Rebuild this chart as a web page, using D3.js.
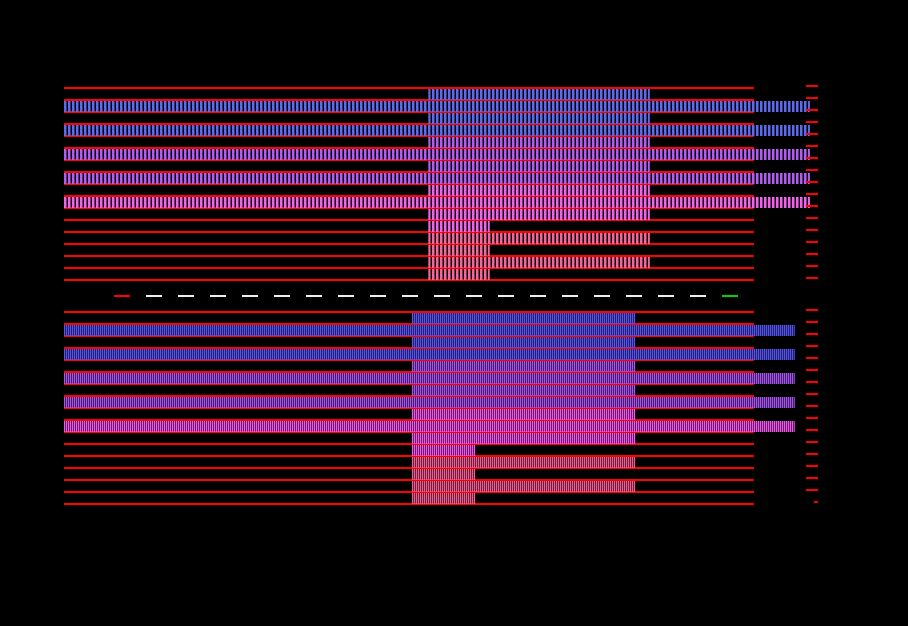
<!DOCTYPE html>
<html><head><meta charset="utf-8">
<script src="https://cdn.jsdelivr.net/npm/d3@7"></script>
<style>html,body{margin:0;padding:0;background:#000;}svg{display:block}</style>
</head><body>
<script>
// ---- data ----
const categories = ["r01","r02","r03","r04","r05","r06","r07","r08","r09","r10","r11","r12","r13","r14","r15","r16"];
const groupOfRow = [0,0,0,0,1,1,1,1,2,2,2,2,3,3,3,3];
const topColors = ["#5b6bec","#b05ef0","#f062ea","#f2669a"];
const bottomColors = ["#5452f2","#a652f2","#f254f0","#f25a92"];
const topStart = [52.8,0,52.8,0,52.8,0,52.8,0,52.8,0,52.8,52.8,52.8,52.8,52.8,52.8];
const topEnd   = [84.9,108.1,84.9,108.1,84.9,108.1,84.9,108.1,84.9,108.1,84.9,61.7,84.9,61.7,84.9,61.7];
const bottomStart = [50.4,0,50.4,0,50.4,0,50.4,0,50.4,0,50.4,50.4,50.4,50.4,50.4,50.4];
const bottomEnd   = [82.8,105.9,82.8,105.9,82.8,105.9,82.8,105.9,82.8,105.9,82.8,59.6,82.8,59.6,82.8,59.6];
const legendColors = ["#ff0000","#eeeeee","#eeeeee","#eeeeee","#eeeeee","#eeeeee","#eeeeee","#eeeeee","#eeeeee","#eeeeee","#eeeeee","#eeeeee","#eeeeee","#eeeeee","#eeeeee","#eeeeee","#eeeeee","#eeeeee","#eeeeee","#00d000"];

// ---- chart ----
const W = 908, H = 626;
const svg = d3.select("body").append("svg").attr("width", W).attr("height", H);
svg.append("rect").attr("width", W).attr("height", H).attr("fill", "#000");
const defs = svg.append("defs");

const x = d3.scaleLinear().domain([0, 100]).range([64, 754]);

function makePatterns(prefix, colors, period, stripe) {
  colors.forEach((c, i) => {
    const p = defs.append("pattern").attr("id", prefix + i)
      .attr("patternUnits", "userSpaceOnUse")
      .attr("width", period).attr("height", 12);
    p.append("rect").attr("x", 0).attr("y", 0).attr("width", stripe).attr("height", 12).attr("fill", c);
  });
}
makePatterns("pt", topColors, 4, 2.5);
makePatterns("pb", bottomColors, 2, 1.4);

function panel(range, starts, ends, prefix) {
  const y = d3.scaleBand().domain(categories).range(range).padding(0);
  const g = svg.append("g");
  const lines = categories.map(c => y(c)).concat([range[1]]);
  g.selectAll("line.grid").data(lines).join("line")
    .attr("x1", x(0)).attr("x2", x(100))
    .attr("y1", d => d).attr("y2", d => d)
    .attr("stroke", "#ff0000").attr("stroke-width", 2);
  g.selectAll("rect.bar").data(categories).join("rect")
    .attr("x", (c, i) => x(starts[i]))
    .attr("width", (c, i) => x(ends[i]) - x(starts[i]))
    .attr("y", c => y(c) + 1)
    .attr("height", y.step() - 1)
    .attr("fill", (c, i) => `url(#${prefix}${groupOfRow[i]})`);
  return lines;
}

const topLines = panel([88, 280], topStart, topEnd, "pt");
const botLines = panel([312, 504], bottomStart, bottomEnd, "pb");

// right-side ticks
svg.append("g").selectAll("line").data(topLines).join("line")
  .attr("x1", 806).attr("x2", 818)
  .attr("y1", d => d - 2).attr("y2", d => d - 2)
  .attr("stroke", "#ff0000").attr("stroke-width", 2);
svg.append("g").selectAll("line").data(botLines).join("line")
  .attr("x1", (d, i) => i === botLines.length - 1 ? 814 : 806).attr("x2", 818)
  .attr("y1", d => d - 2).attr("y2", d => d - 2)
  .attr("stroke", "#ff0000").attr("stroke-width", 2);

// dashed legend row
const lx = d3.scaleLinear().domain([0, legendColors.length - 1]).range([114, 722]);
svg.append("g").selectAll("line").data(legendColors).join("line")
  .attr("x1", (d, i) => lx(i)).attr("x2", (d, i) => lx(i) + 16)
  .attr("y1", 296).attr("y2", 296)
  .attr("stroke", d => d).attr("stroke-width", 2);
</script>
</body></html>
